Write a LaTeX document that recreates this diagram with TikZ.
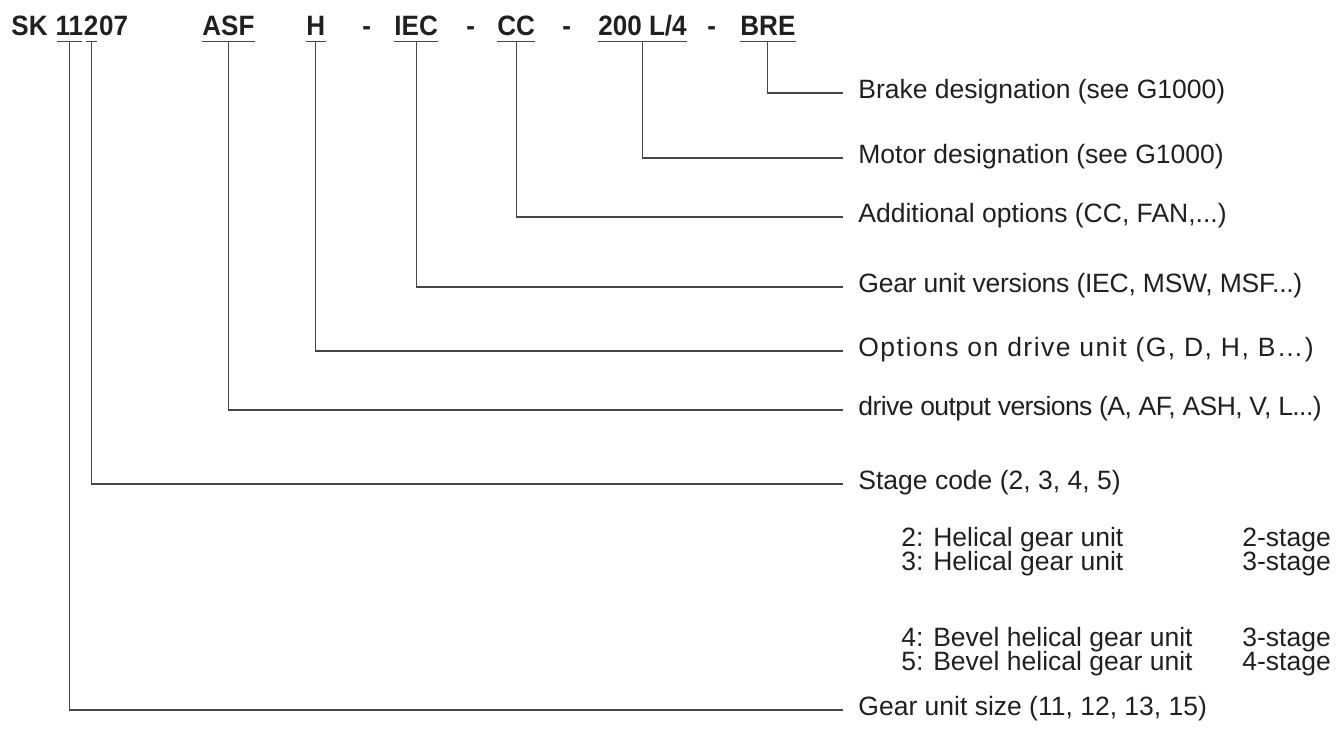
\documentclass[tikz,border=0pt]{standalone}
\usepackage{fontspec}
\setmainfont{Liberation Sans}
\newfontfamily\codigofont{Liberation Sans}[FakeStretch=0.93]
\usetikzlibrary{positioning}
\definecolor{Tinta}{RGB}{35,31,32}
\definecolor{Trazo}{RGB}{70,70,70}
\tikzset{
  codigo/.style={inner sep=0pt, text height=10.2pt, text depth=3pt, text=Tinta,
    font=\codigofont\fontsize{14}{16}\selectfont\bfseries},
  etiqueta/.style={anchor=west, inner xsep=7.5pt, inner ysep=0pt, text height=9.5pt,
    text depth=4.5pt, text=Tinta, font=\fontsize{13.25}{16}\selectfont},
  subitem/.style={anchor=base west, inner sep=0pt, text=Tinta, font=\fontsize{13.25}{16}\selectfont},
  subraya/.style={draw=Trazo, line width=0.6pt},
  linea/.style={draw=Trazo, line width=0.55pt},
}
\begin{document}
\begin{tikzpicture}[x=0.5pt, y=-0.5pt]
  \useasboundingbox (0,0) rectangle (1336,744);

  % ---- codigo de tipo ----
  \node[codigo, anchor=base west] (sk) at (11,35) {SK};
  \node[codigo, right=3.6pt of sk] (tam) {11};
  \node[codigo, right=0pt of tam] (eta) {2};
  \node[codigo, right=0pt of eta] (rel) {07};
  \node[codigo, anchor=base west] (sal) at (202,35) {ASF};
  \node[codigo, anchor=base west] (opc) at (306,35) {H};
  \node[codigo, anchor=base west] (g1) at (362,35) {-};
  \node[codigo, anchor=base west] (ver) at (394,35) {IEC};
  \node[codigo, anchor=base west] (g2) at (466,35) {-};
  \node[codigo, anchor=base west] (adi) at (497,35) {CC};
  \node[codigo, anchor=base west] (g3) at (562,35) {-};
  \node[codigo, anchor=base west] (mot) at (598,35) {200 L/4};
  \node[codigo, anchor=base west] (g4) at (707,35) {-};
  \node[codigo, anchor=base west] (fre) at (740,35) {BRE};
  \foreach \n in {tam,eta}
    \draw[subraya, shorten <=1pt, shorten >=1pt] (\n.south west) -- (\n.south east);
  \foreach \n in {sal,opc,ver,adi,mot,fre}
    \draw[subraya] (\n.south west) -- (\n.south east);

  % ---- etiquetas ----
  \node[etiqueta] (lfre) at (843,93) {Brake designation (see G1000)};
  \node[etiqueta] (lmot) at (843,158) {Motor designation (see G1000)};
  \node[etiqueta] (ladi) at (843,217) {Additional options (CC, FAN,...)};
  \node[etiqueta] (lver) at (843,287) {\addfontfeature{LetterSpace=-1}Gear unit versions (IEC, MSW, MSF...)};
  \node[etiqueta] (lopc) at (843,351) {\addfontfeature{LetterSpace=5.6}Options on drive unit (G, D, H, B…)};
  \node[etiqueta] (lsal) at (843,410) {\addfontfeature{LetterSpace=-2.2}drive output versions (A, AF, ASH, V, L...)};
  \node[etiqueta] (leta) at (843,484) {Stage code (2, 3, 4, 5)};
  \node[etiqueta] (ltam) at (843,710) {Gear unit size (11, 12, 13, 15)};

  \node[subitem] (h2) at (901,546) {2: Helical gear unit};
  \node[subitem] (h3) at (901,570) {3: Helical gear unit};
  \node[subitem] (b4) at (901,646) {4: Bevel helical gear unit};
  \node[subitem] (b5) at (901,670) {5: Bevel helical gear unit};
  \node[subitem] (s2) at (1242,546) {2-stage};
  \node[subitem] (s3) at (1242,570) {3-stage};
  \node[subitem] (s4) at (1242,646) {3-stage};
  \node[subitem] (s5) at (1242,670) {4-stage};

  % ---- lineas de referencia ----
  \draw[linea] (fre.south) |- (lfre);
  \draw[linea] (mot.south) |- (lmot);
  \draw[linea] (adi.south) |- (ladi);
  \draw[linea] (ver.south) |- (lver);
  \draw[linea] (opc.south) |- (lopc);
  \draw[linea] (sal.south) |- (lsal);
  \draw[linea] (eta.south) |- (leta);
  \draw[linea] (tam.south) |- (ltam);
\end{tikzpicture}
\end{document}
